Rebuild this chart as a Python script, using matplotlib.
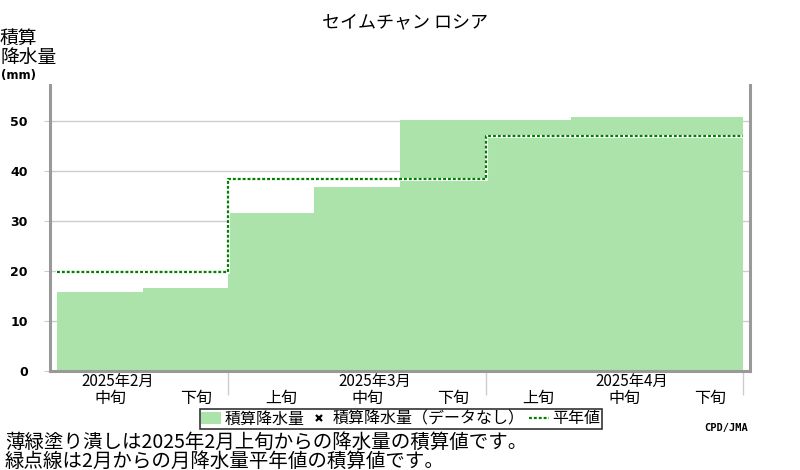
import matplotlib
matplotlib.use("Agg")
import matplotlib.pyplot as plt
from matplotlib.patches import Patch
from matplotlib.lines import Line2D

plt.rcParams['font.family'] = ['Noto Sans CJK JP', 'DejaVu Sans']

# dekads shown on the x axis (Feb 中旬 .. Apr 下旬)
dekads = ['中旬', '下旬', '上旬', '中旬', '下旬', '上旬', '中旬', '下旬']
months = ['2025年2月', '2025年3月', '2025年4月']
month_at = [0, 3, 6]          # dekad index the month label sits over
month_edges = [2, 5, 8]

# accumulated precipitation (mm) and accumulated normal (mm)
accum = [15.9, 16.7, 31.6, 36.8, 50.3, 50.3, 50.9, 50.9]
normal = [19.8, 19.8, 38.5, 38.5, 38.5, 47.0, 47.0, 47.0]

fill_col = '#abe3ab'
line_col = '#008000'
spine_col = '#999999'
grid_col = '#cccccc'

fig = plt.figure(figsize=(8, 4.7), dpi=100)
ax = fig.add_axes([50 / 800, 1 - 371 / 470, 700 / 800, 286 / 470])

x = list(range(len(accum)))
ax.bar(x, accum, width=1.0, align='edge', color=fill_col, linewidth=0, zorder=2)

xs = x + [len(normal)]
ys = normal + [normal[-1]]
ax.plot(xs, ys, drawstyle='steps-post', color='white', lw=2.2, zorder=3)
ax.plot(xs, ys, drawstyle='steps-post', color=line_col, lw=1.6,
        linestyle=(0, (1.3, 0.9)), zorder=4)

ax.set_xlim(-0.082, 8.085)
ax.set_ylim(0, 57.3)

ax.set_yticks([0, 10, 20, 30, 40, 50])
ax.set_yticklabels(['0', '10', '20', '30', '40', '50'], fontsize=9,
                   fontweight='bold', family='DejaVu Sans')
ax.tick_params(axis='y', length=4, color=grid_col, pad=12)
ax.yaxis.grid(True, color=grid_col, lw=1)
ax.set_axisbelow(True)

ax.set_xticks([i + 0.62 for i in x])
ax.set_xticklabels(dekads, fontsize=11.5)
ax.set_xticks(month_edges, minor=True)
ax.tick_params(axis='x', which='major', length=0, pad=13.5)
ax.tick_params(axis='x', which='minor', length=17, color=grid_col, width=1)

for i, m in zip(month_at, months):
    ax.text(i + 0.71, -0.008, m, transform=ax.get_xaxis_transform(),
            ha='center', va='top', fontsize=11)

for s in ['left', 'right', 'bottom']:
    ax.spines[s].set_color(spine_col)
    ax.spines[s].set_linewidth(2.2)
ax.spines['top'].set_visible(False)

fig.text(405 / 800, 1 - 22 / 470, 'セイムチャン ロシア', ha='center', va='center', fontsize=13)
fig.text(0, 1 - 48 / 470, '積算\n降水量', ha='left', va='center', fontsize=13.5,
         linespacing=0.85)
fig.text(1 / 800, 1 - 76 / 470, '(mm)', ha='left', va='center', fontsize=8.5,
         fontweight='bold', family='DejaVu Sans')

handles = [
    Patch(facecolor=fill_col, edgecolor='none'),
    Line2D([], [], marker='x', color='black', linestyle='None',
           markersize=4.5, markeredgewidth=1.6),
    Line2D([], [], color=line_col, lw=1.6, linestyle=(0, (1.3, 0.9))),
]
labels = ['積算降水量', '積算降水量（データなし）', '平年値']
leg = fig.legend(handles, labels, loc='center', bbox_to_anchor=(401 / 800, 1 - 419 / 470),
                 ncol=3, fontsize=11.5, frameon=True, fancybox=False,
                 handlelength=1.2, handletextpad=0.25, columnspacing=0.3,
                 borderpad=0.1, borderaxespad=0)
leg.get_frame().set_edgecolor('black')
leg.get_frame().set_linewidth(1.2)

fig.text(748 / 800, 1 - 428 / 470, 'CPD/JMA', ha='right', va='center', fontsize=7.5,
         fontweight='bold', family='DejaVu Sans Mono')

fig.text(5 / 800, 1 - 442 / 470, '薄緑塗り潰しは2025年2月上旬からの降水量の積算値です。',
         ha='left', va='center', fontsize=14)
fig.text(5 / 800, 1 - 461 / 470, '緑点線は2月からの月降水量平年値の積算値です。',
         ha='left', va='center', fontsize=14)

fig.savefig('out.png', dpi=100)
